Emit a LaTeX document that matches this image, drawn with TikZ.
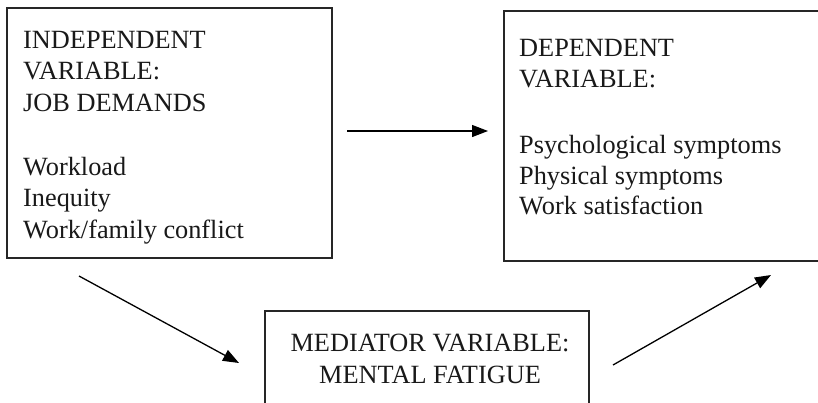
\documentclass[tikz,border=0pt]{standalone}
\usepackage{fontspec}
\setmainfont{Liberation Serif}
\usetikzlibrary{arrows.meta}
\begin{document}
\begin{tikzpicture}[x=1pt,y=-1pt,
  box/.style={draw=black!85, line width=1.3pt, rectangle, inner sep=0pt},
  txt/.style={anchor=base west, inner sep=0pt, font=\fontsize{26.3}{31}\selectfont, text=black!90},
  ctxt/.style={anchor=base, inner sep=0pt, font=\fontsize{26.3}{31}\selectfont, text=black!90},
  arr/.style={line width=1.3pt, -{Triangle[length=16pt,width=12pt]}}]
\useasboundingbox (0,0) rectangle (818,402);
\clip (0,0) rectangle (818,402);
\fill[white] (0,0) rectangle (818,402);
% boxes
\node[box, minimum width=325pt, minimum height=250pt] (indep) at (169.5,133) {};
\node[box, minimum width=326pt, minimum height=250pt] (dep) at (667,136) {};
\node[box, minimum width=324pt, minimum height=109pt] (med) at (427,365.5) {};
% left text
\node[txt] (i1) at (23,48) {INDEPENDENT};
\node[txt] (i2) at (23,79) {VARIABLE:};
\node[txt] (i3) at (23,111) {JOB DEMANDS};
\node[txt] (i4) at (23,175) {Workload};
\node[txt] (i5) at (23,206) {Inequity};
\node[txt] (i6) at (23,238) {Work/family conflict};
% right text
\node[txt] (d1) at (519,56) {DEPENDENT};
\node[txt] (d2) at (519,87) {VARIABLE:};
\node[txt] (d3) at (519,153) {Psychological symptoms};
\node[txt] (d4) at (519,184) {Physical symptoms};
\node[txt] (d5) at (519,214) {Work satisfaction};
% mediator text
\node[ctxt] (m1) at (430,351) {MEDIATOR VARIABLE:};
\node[ctxt] (m2) at (430,383) {MENTAL FATIGUE};
% arrow endpoints
\coordinate (a1s) at (347,131);
\coordinate (a1e) at (488,131);
\coordinate (a2s) at (79,276);
\coordinate (a2e) at (239,363);
\coordinate (a3s) at (613,365);
\coordinate (a3e) at (771,275);
\draw[arr] (a1s) -- (a1e);
\draw[arr] (a2s) -- (a2e);
\draw[arr] (a3s) -- (a3e);
\end{tikzpicture}
\end{document}
